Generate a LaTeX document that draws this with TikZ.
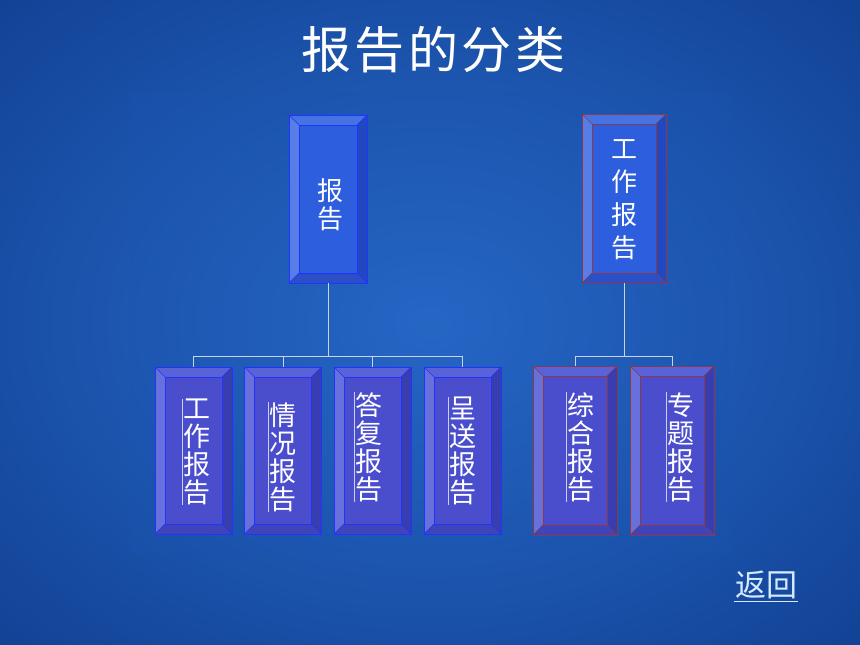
\documentclass[tikz,border=0pt]{standalone}
\usepackage{fontspec}
\newfontfamily\cjk{Noto Sans CJK SC}
\newfontfamily\cjktitle[LetterSpace=7]{Noto Sans CJK SC}
\usetikzlibrary{calc}
\definecolor{bglight}{HTML}{2A6CCB}
\definecolor{bgdark}{HTML}{0E3C8E}
\definecolor{areafill}{HTML}{1A55B2}
\definecolor{blueedge}{HTML}{2232FF}
\definecolor{rededge}{HTML}{8A3A4A}
\definecolor{linkgray}{HTML}{C9D3E6}
\definecolor{backlink}{HTML}{D6EAFF}
\def\pb{path picture bounding box}
\tikzset{
 palette top/.code={\definecolor{bxfill}{HTML}{2C5EDE}\definecolor{bxtop}{HTML}{4673E4}\definecolor{bxleft}{HTML}{577DE6}\definecolor{bxright}{HTML}{2148BE}\definecolor{bxbot}{HTML}{2A4FC6}},
 palette sub/.code={\definecolor{bxfill}{HTML}{4A4ECC}\definecolor{bxtop}{HTML}{5A62D8}\definecolor{bxleft}{HTML}{6870DC}\definecolor{bxright}{HTML}{383DB0}\definecolor{bxbot}{HTML}{3F45B8}},
 bevelbox/.style={draw=#1, line width=0.9pt, fill=bxfill, inner sep=0pt,
  path picture={
   \fill[bxtop] (\pb.north west) -- (\pb.north east) -- ($(\pb.north east)+(-10pt,-10pt)$) -- ($(\pb.north west)+(10pt,-10pt)$) -- cycle;
   \fill[bxleft] (\pb.north west) -- (\pb.south west) -- ($(\pb.south west)+(10pt,10pt)$) -- ($(\pb.north west)+(10pt,-10pt)$) -- cycle;
   \fill[bxright] (\pb.north east) -- (\pb.south east) -- ($(\pb.south east)+(-10pt,10pt)$) -- ($(\pb.north east)+(-10pt,-10pt)$) -- cycle;
   \fill[bxbot] (\pb.south west) -- (\pb.south east) -- ($(\pb.south east)+(-10pt,10pt)$) -- ($(\pb.south west)+(10pt,10pt)$) -- cycle;
   \draw[#1, line width=0.6pt] ($(\pb.north west)+(10pt,-10pt)$) rectangle ($(\pb.south east)+(-10pt,10pt)$);
   \draw[#1, line width=0.6pt] (\pb.north west) -- ++(10pt,-10pt) (\pb.north east) -- ++(-10pt,-10pt)
     (\pb.south west) -- ++(10pt,10pt) (\pb.south east) -- ++(-10pt,10pt);
  }},
 vtext/.style={font=\cjk\fontsize{27}{28}\selectfont, align=center, text=white, inner sep=0pt},
 textbar/.style={draw=linkgray, line width=1.3pt},
 link/.style={draw=linkgray, line width=0.9pt},
}
\begin{document}
\begin{tikzpicture}[x=1pt,y=-1pt]
\useasboundingbox (0,0) rectangle (860,645);
\begin{scope}
\clip (0,0) rectangle (860,645);
\path[inner color=bglight, outer color=bgdark] (-260,-200) rectangle (1120,845);
\end{scope}
\fill[areafill, opacity=0.25] (130,92) rectangle (730,553);

\node[font=\cjktitle\fontsize{50}{50}\selectfont, text=white] (title) at (433,50) {报告的分类};

\node[palette top, bevelbox=blueedge, minimum width=78, minimum height=168] (bg) at (328,199) {};
\node[palette sub, bevelbox=blueedge, minimum width=77, minimum height=167] (gzbg) at (193.5,450.5) {};
\node[palette sub, bevelbox=blueedge, minimum width=77, minimum height=167] (qkbg) at (283,450.5) {};
\node[palette sub, bevelbox=blueedge, minimum width=77, minimum height=167] (dfbg) at (372.5,450.5) {};
\node[palette sub, bevelbox=blueedge, minimum width=77, minimum height=167] (csbg) at (462.5,450.5) {};

\node[palette top, bevelbox=rededge, minimum width=84, minimum height=169] (gz) at (624,198.5) {};
\node[palette sub, bevelbox=rededge, minimum width=84, minimum height=169] (zhbg) at (575,450.5) {};
\node[palette sub, bevelbox=rededge, minimum width=84, minimum height=169] (ztbg) at (672,450.5) {};

\node[vtext, font=\cjk\fontsize{26}{28}\selectfont] (bgtext) at (330,205) {报\\告};
\node[vtext, font=\cjk\fontsize{26}{33}\selectfont] (gztext) at (624,200) {工\\作\\报\\告};

\node[vtext] (gzbgtext) at (197,452) {工\\作\\报\\告};
\node[vtext] (qkbgtext) at (283,457) {情\\况\\报\\告};
\node[vtext] (dfbgtext) at (369,447) {答\\复\\报\\告};
\node[vtext] (csbgtext) at (463,451) {呈\\送\\报\\告};
\node[vtext] (zhbgtext) at (581,447) {综\\合\\报\\告};
\node[vtext] (ztbgtext) at (681,447) {专\\题\\报\\告};
\foreach \t in {gzbgtext,qkbgtext,dfbgtext,csbgtext,zhbgtext,ztbgtext}
 \draw[textbar] ($(\t.north west)+(-1,0)$) -- ($(\t.south west)+(-1,0)$);

\draw[link] (bg.south) -- ++(0,73) coordinate (bgbar);
\draw[link] (bgbar -| gzbg.north) -- (bgbar -| csbg.north);
\foreach \c in {gzbg,qkbg,dfbg,csbg}
 \draw[link] (bgbar -| \c.north) -- (\c.north);

\draw[link] (gz.south) -- ++(0,73) coordinate (gzbar);
\draw[link] (gzbar -| zhbg.north) -- (gzbar -| ztbg.north);
\foreach \c in {zhbg,ztbg}
 \draw[link] (gzbar -| \c.north) -- (\c.north);

\node[font=\cjk\fontsize{31}{31}\selectfont, text=backlink, inner sep=1pt] (back) at (766,585) {返回};
\draw[backlink, line width=1.2pt] ($(back.south west)+(0,1)$) -- ($(back.south east)+(0,1)$);
\end{tikzpicture}
\end{document}
